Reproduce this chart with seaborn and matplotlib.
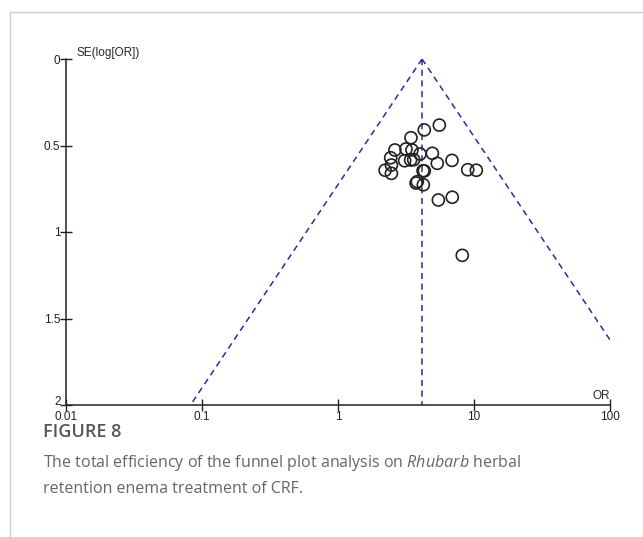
import numpy as np
import pandas as pd
import seaborn as sns
import matplotlib.pyplot as plt
import matplotlib.transforms as mtransforms
from matplotlib.lines import Line2D

# funnel plot data
odds_ratio = [4.31, 5.56, 3.44, 2.62, 3.16, 3.50, 4.01, 4.94, 2.44, 3.09,
              3.42, 3.60, 5.37, 6.89, 2.47, 2.22, 2.47, 4.22, 4.31, 8.99,
              10.4, 3.83, 3.75, 4.24, 5.47, 6.92, 8.20]
se_log_or = [0.410, 0.382, 0.455, 0.526, 0.520, 0.526, 0.549, 0.545, 0.571, 0.588,
             0.584, 0.582, 0.603, 0.586, 0.613, 0.643, 0.661, 0.646, 0.647, 0.640,
             0.643, 0.709, 0.717, 0.727, 0.815, 0.799, 1.135]
pooled_or = 4.15
se_max = 2.0

x_ticks = [0.01, 0.1, 1, 10, 100]
x_labels = ['0.01', '0.1', '1', '10', '100']
y_ticks = [0, 0.5, 1, 1.5, 2]
y_labels = ['0', '0.5', '1', '1.5', '2']

df = pd.DataFrame({'OR': odds_ratio, 'SE': se_log_or})

sns.set_style('white')
plt.rcParams['font.family'] = ['Liberation Sans', 'DejaVu Sans']
plt.rcParams['mathtext.fontset'] = 'custom'
plt.rcParams['mathtext.it'] = 'Open Sans:italic'

fig = plt.figure(figsize=(6.43, 5.37), dpi=100)
ax = fig.add_axes([66 / 643, 1 - 405 / 537, 544 / 643, 346 / 537])

# funnel (95% pseudo confidence limits)
se_line = np.array([0, se_max])
funnel = pd.DataFrame({
    'x': np.concatenate([pooled_or * np.exp(-1.96 * se_line), pooled_or * np.exp(1.96 * se_line),
                         [pooled_or, pooled_or]]),
    'y': np.concatenate([se_line, se_line, se_line]),
    'part': ['left'] * 2 + ['right'] * 2 + ['mid'] * 2,
})
sns.lineplot(data=funnel, x='x', y='y', units='part', estimator=None, sort=False,
             color='#2b2b9e', lw=1.1, dashes=False, ax=ax)
for ln in ax.get_lines():
    ln.set_linestyle((0, (4, 3)))

sns.scatterplot(data=df, x='OR', y='SE', marker='o', s=75, facecolor='none',
                edgecolor='#222222', linewidth=1.2, ax=ax, zorder=3)

ax.set_xscale('log')
ax.set_xlim(0.01, 100)
ax.set_ylim(2, 0)
ax.set_xticks(x_ticks)
ax.set_xticklabels(x_labels)
ax.set_yticks(y_ticks)
ax.set_yticklabels(y_labels)
ax.minorticks_off()
ax.tick_params(bottom=True, left=True, direction='inout', length=8, width=1,
               color='#222222', labelcolor='#222222', labelsize=8.5)
ax.tick_params(axis='x', pad=0)
ax.tick_params(axis='y', pad=0)
ax.set_xlabel('')
ax.set_ylabel('')
for s in ['top', 'right']:
    ax.spines[s].set_visible(False)
for s in ['left', 'bottom']:
    ax.spines[s].set_color('#222222')
    ax.spines[s].set_linewidth(1.1)

# the "2" sits just above the corner, as in the reference
lab2 = ax.get_yticklabels()[-1]
lab2.set_transform(lab2.get_transform() + mtransforms.ScaledTranslation(0, 3 / 72, fig.dpi_scale_trans))

ax.text(0.012, 0.0, 'SE(log[OR])', fontsize=8.5, va='bottom', ha='left',
        transform=ax.transData, clip_on=False)
ax.text(1.0, 0.01, 'OR', fontsize=8.5, va='bottom', ha='right',
        transform=ax.transAxes, clip_on=False)

# page frame
fig.add_artist(Line2D([10 / 643, 1], [1 - 12 / 537, 1 - 12 / 537], color='#cccccc', lw=1))
fig.add_artist(Line2D([10 / 643, 10 / 643], [0, 1 - 12 / 537], color='#cccccc', lw=1))

cap = ['Open Sans', 'DejaVu Sans']
fig.text(43 / 643, 1 - 432 / 537, 'FIGURE 8', fontsize=13, color='#555555',
         family=cap, weight='semibold', va='center')
fig.text(43 / 643, 1 - 463 / 537, 'The total efficiency of the funnel plot analysis on $\\it{Rhubarb}$ herbal',
         fontsize=11.5, color='#666666', family=cap, va='center')
fig.text(43 / 643, 1 - 489 / 537, 'retention enema treatment of CRF.',
         fontsize=11.5, color='#666666', family=cap, va='center')

plt.savefig('out.png', dpi=100)
